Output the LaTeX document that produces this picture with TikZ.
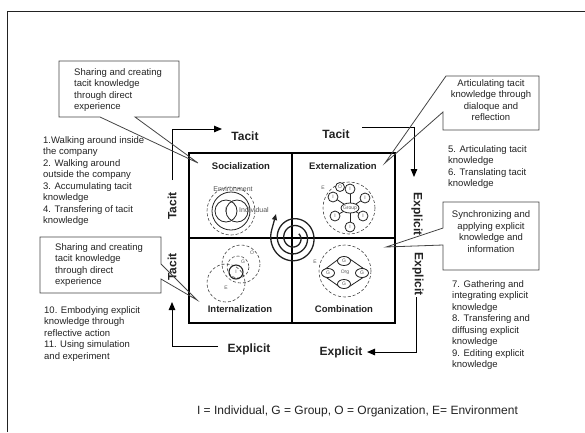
\documentclass[tikz,border=0pt]{standalone}
\usepackage{fontspec}
\setmainfont{Liberation Sans}
\usetikzlibrary{arrows.meta}
\definecolor{ink}{HTML}{222222}
\definecolor{rim}{HTML}{444444}
\definecolor{pale}{HTML}{555555}

\begin{document}
\begin{tikzpicture}[x=1pt,y=-1pt,
  every node/.style={inner sep=0pt, text=ink},
  listtext/.style={font=\fontsize{9.5}{11.5}\selectfont, align=left, anchor=north west},
  calltext/.style={font=\fontsize{9.5}{11.5}\selectfont, align=center},
  qlabel/.style={font=\fontsize{9.5}{11}\selectfont\bfseries},
  flowlabel/.style={font=\fontsize{12}{14}\selectfont\bfseries},
  flowarrow/.style={draw=black, line width=1pt, -{Triangle[length=8pt,width=6.5pt]}},
  callout/.style={draw=rim, line width=0.8pt, line join=miter},
  glabel/.style={font=\fontsize{5}{6}\selectfont, text=pale},
  gname/.style={font=\fontsize{7}{8}\selectfont, text=pale},
  dcirc/.style={draw=rim, densely dashed, line width=0.6pt},
  scirc/.style={draw=ink, line width=0.8pt},
]
\useasboundingbox (0,0) rectangle (585,432);

% page frame
\draw[draw=ink, line width=0.9pt] (7,432) -- (7,11) -- (585,11);

% the four quadrants
\draw[line width=1.1pt] (189,153) rectangle (395,323);
\draw[line width=1.1pt] (292,153) -- (292,323);
\draw[line width=1.1pt] (189,238) -- (395,238);

\node[qlabel] (soc) at (241,166) {Socialization};
\node[qlabel] (ext) at (343,166) {Externalization};
\node[qlabel] (int) at (240,309) {Internalization};
\node[qlabel] (com) at (344,309) {Combination};

% flow labels around the square
\node[flowlabel] (tacitTL) at (245,136) {Tacit};
\node[flowlabel] (tacitTR) at (336,134) {Tacit};
\node[flowlabel, rotate=90] (tacitL1) at (172,206) {Tacit};
\node[flowlabel, rotate=90] (tacitL2) at (172,267) {Tacit};
\node[flowlabel, rotate=-90] (explR1) at (417,214) {Explicit};
\node[flowlabel, rotate=-90] (explR2) at (418,274) {Explicit};
\node[flowlabel] (explBL) at (249,349) {Explicit};
\node[flowlabel] (explBR) at (341,352) {Explicit};

% flow arrows
\coordinate (p1) at (172,180); \coordinate (p2) at (222,129);
\draw[flowarrow] (p1) |- (p2);
\coordinate (p3) at (362,127); \coordinate (p4) at (414,177);
\draw[flowarrow] (p3) -| (p4);
\coordinate (p5) at (416,297); \coordinate (p6) at (367,352);
\draw[flowarrow] (p5) |- (p6);
\coordinate (p7) at (218,346); \coordinate (p8) at (172,302);
\draw[flowarrow] (p7) -| (p8);

% lists of activities
\node[listtext] (listA) at (43,136.4) {1.Walking around inside\\the company\\2. Walking around\\outside the company\\3. Accumulating tacit\\knowledge\\4. Transfering of tacit\\knowledge};
\node[listtext] (listB) at (44,306.4) {10. Embodying explicit\\knowledge through\\reflective action\\11. Using simulation\\and experiment};
\node[listtext] (listC) at (448,145.4) {5. Articulating tacit\\knowledge\\6. Translating tacit\\knowledge};
\node[listtext] (listD) at (452,280.4) {7. Gathering and\\integrating explicit\\knowledge\\8. Transfering and\\diffusing explicit\\knowledge\\9. Editing explicit\\knowledge};

% callouts
\node[listtext] (c1txt) at (74,68.4) {Sharing and creating\\tacit knowledge\\through direct\\experience};
\coordinate (t1) at (198,163);
\draw[callout] (100,117) -- (59,117) -- (59,61) -- (179,61) -- (179,117) -- (135,117) -- (t1) -- cycle;

\node[calltext] (c2txt) at (491,99.9) {Articulating tacit\\knowledge through\\dialoque and\\reflection};
\coordinate (t2) at (385,163);
\draw[callout] (443,112) -- (443,130) -- (539,130) -- (539,76) -- (446,76) -- (t2) -- cycle;

\node[calltext] (c3txt) at (491,231.4) {Synchronizing and\\applying explicit\\knowledge and\\information};
\coordinate (t3) at (386,247);
\draw[callout] (443,245) -- (443,270) -- (539,270) -- (539,202) -- (443,202) -- (443,228) -- (t3) -- cycle;

\node[listtext] (c4txt) at (55,243.4) {Sharing and creating\\tacit knowledge\\through direct\\experience};
\coordinate (t4) at (197,300);
\draw[callout] (161,264) -- (161,237) -- (40,237) -- (40,293) -- (161,293) -- (161,279) -- (t4) -- cycle;

% socialization: individuals within the environment
\draw[dcirc] (231,211) circle[radius=24];
\draw[scirc] (231,211) circle[radius=19];
\draw[scirc] (226,211) circle[radius=11];
\draw[scirc] (237,211) circle[radius=11];
\node[gname] (envS) at (233,189) {Environment};
\node[gname] (indS) at (254,210) {Individual};
\node[gname] (iS) at (226,210) {I};

% externalization: individuals around a group
\draw[dcirc] (349,208) circle[radius=26];
\node[glabel] (eE) at (323,188) {E};
\coordinate (grp) at (350,208);
\coordinate (xa) at (350,189);
\coordinate (xb) at (333,197);
\coordinate (xc) at (365,198);
\coordinate (xd) at (335,216);
\coordinate (xe) at (363,216);
\coordinate (xf) at (350,227);
\foreach \n in {xa,xb,xc,xd,xe,xf}
  \draw[scirc] (grp) -- (\n);
\draw[scirc, fill=white] (340,187) circle[radius=4.5];
\node[glabel] (oE) at (340,187) {O};
\foreach \n in {xa,xb,xc,xd,xe,xf}{
  \draw[scirc, fill=white] (\n) circle[radius=5];
  \node[glabel] at (\n) {I};
}
\draw[scirc, fill=white] (grp) ellipse[x radius=9, y radius=5];
\node[glabel] (gE) at (grp) {Group};

% internalization: overlapping circles
\draw[dcirc] (226,283) circle[radius=19];
\draw[dcirc] (241,264) circle[radius=19];
\draw[dcirc] (238,267) circle[radius=11];
\draw[draw=ink, line width=1.1pt] (236,272) circle[radius=7];
\node[glabel] (eI) at (226,288) {E};
\node[glabel] (oI) at (252,253) {O};
\node[glabel] (gI) at (243,262) {G};
\node[glabel] (iI) at (236,272) {I};

% combination: groups within the organization
\draw[dcirc] (345,271) circle[radius=26];
\node[glabel] (eC) at (315,262) {E};
\draw[scirc, rounded corners=6pt] (344,255) -- (370,273) -- (344,290) -- (320,273) -- cycle;
\coordinate (ga) at (344,261);
\coordinate (gb) at (328,273);
\coordinate (gc) at (362,273);
\coordinate (gd) at (344,284);
\foreach \n in {ga,gb,gc,gd}{
  \draw[scirc, fill=white] (\n) ellipse[x radius=6.5, y radius=4.5];
  \node[glabel] at (\n) {G};
}
\node[glabel] (orgC) at (345,272) {Org};

% knowledge spiral, winding outward to the arrow
\coordinate (spend) at (276,214);
\draw[draw=ink, line width=1.3pt, -{Triangle[length=6pt,width=5pt]}]
  plot[domain=-760:200, samples=150, smooth, variable=\t]
    ({294+(20+\t/55)*cos(\t)}, {238+1.05*(20+\t/55)*sin(\t)})
  -- (spend);

% legend
\node[font=\fontsize{12}{14}\selectfont] (legend) at (357.5,411) {I = Individual, G = Group, O = Organization, E= Environment};
\end{tikzpicture}
\end{document}
